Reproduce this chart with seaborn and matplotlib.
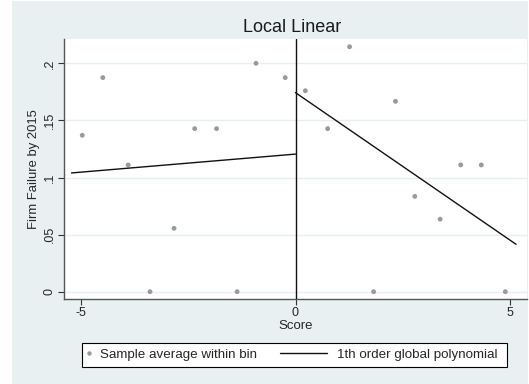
import matplotlib
matplotlib.use("Agg")
import matplotlib.pyplot as plt
import seaborn as sns
import pandas as pd
from matplotlib.lines import Line2D
from matplotlib.patches import Rectangle

# Data
bin_score = [-4.97, -4.49, -3.90, -3.39, -2.83, -2.35, -1.84, -1.36, -0.92, -0.24,
             0.23, 0.75, 1.26, 1.82, 2.33, 2.78, 3.37, 3.85, 4.33, 4.89]
bin_mean = [0.137, 0.1875, 0.111, 0.0, 0.0555, 0.1428, 0.1428, 0.0, 0.2, 0.1875,
            0.176, 0.1428, 0.2145, 0.0, 0.1667, 0.0835, 0.0635, 0.111, 0.111, 0.0]
fit_left_x = [-5.22, 0.0]
fit_left_y = [0.104, 0.1205]
fit_right_x = [0.0, 5.14]
fit_right_y = [0.1743, 0.0415]
yticks = [0, 0.05, 0.1, 0.15, 0.2]
ytick_labels = ["0", ".05", ".1", ".15", ".2"]
xticks = [-5, 0, 5]
xtick_labels = ["-5", "0", "5"]
legend_labels = ["Sample average within bin", "1th order global polynomial"]

sns.set_theme(style="white")
plt.rcParams["font.family"] = ["Liberation Sans", "DejaVu Sans"]

W, H = 529, 384
bg = "#e8f0f2"
fig = plt.figure(figsize=(W / 100, H / 100), dpi=100, facecolor="white")
fig.patches.append(Rectangle((12 / W, 0), (528 - 12) / W, (H - 1) / H,
                             transform=fig.transFigure, facecolor=bg,
                             edgecolor="none", zorder=-10))

ax = fig.add_axes([64 / W, 1 - 299 / H, (527 - 64) / W, (299 - 39) / H])
ax.set_facecolor("white")

for yv in yticks:
    ax.axhline(yv, color="#e6eff1", lw=1.0, zorder=0)

pts = pd.DataFrame({"score": bin_score, "mean": bin_mean})
sns.scatterplot(data=pts, x="score", y="mean", ax=ax, color="#9a9a9a",
                s=12, edgecolor="none", zorder=3)

left = pd.DataFrame({"x": fit_left_x, "y": fit_left_y})
right = pd.DataFrame({"x": fit_right_x, "y": fit_right_y})
sns.lineplot(data=left, x="x", y="y", ax=ax, color="#111111", lw=1.0, zorder=4)
sns.lineplot(data=right, x="x", y="y", ax=ax, color="#111111", lw=1.0, zorder=4)
ax.axvline(0, color="#111111", lw=1.0, zorder=4)

ax.set_xlim(-5.395, 5.395)
ax.set_ylim(-0.0064, 0.2213)
ax.set_xticks(xticks)
ax.set_xticklabels(xtick_labels, fontsize=9)
ax.set_yticks(yticks)
ax.set_yticklabels(ytick_labels, fontsize=9, rotation=90, va="center")
ax.tick_params(axis="both", direction="out", length=4, width=0.8, color="#333333",
               bottom=True, left=True, pad=2)

for s in ["top", "right"]:
    ax.spines[s].set_visible(False)
for s in ["left", "bottom"]:
    ax.spines[s].set_color("#555555")
    ax.spines[s].set_linewidth(1.0)

ax.set_xlabel("Score", fontsize=9.5, labelpad=0.5)
ax.set_ylabel("Firm Failure by 2015", fontsize=9.4, labelpad=3)
fig.text(292 / W, 1 - 32 / H, "Local Linear", ha="center", va="baseline",
         fontsize=13, color="#1a1a1a")

# legend: frame + two entries
fs = 9.6
yc = 1 - 355 / H
fig.patches.append(Rectangle((82 / W, 1 - 367 / H), (507 - 82) / W, 24 / H,
                             transform=fig.transFigure, facecolor="white",
                             edgecolor="black", lw=0.8, zorder=5))
h1 = Line2D([], [], marker="o", ls="none", color="#9a9a9a", markersize=3.2,
            markeredgewidth=0)
h2 = Line2D([], [], color="#111111", lw=1.0)
leg1 = fig.legend([h1], [legend_labels[0]], loc="center left",
                  bbox_to_anchor=(83.6 / W, yc), frameon=False, fontsize=fs,
                  handlelength=0.8, handletextpad=0.42, borderpad=0,
                  borderaxespad=0)
leg2 = fig.legend([h2], [legend_labels[1]], loc="center left",
                  bbox_to_anchor=(280 / W, yc), frameon=False, fontsize=fs,
                  handlelength=3.55, handletextpad=0.74, borderpad=0,
                  borderaxespad=0)
leg1.set_zorder(6)
leg2.set_zorder(6)

fig.savefig("out.png", dpi=100, facecolor="white")
